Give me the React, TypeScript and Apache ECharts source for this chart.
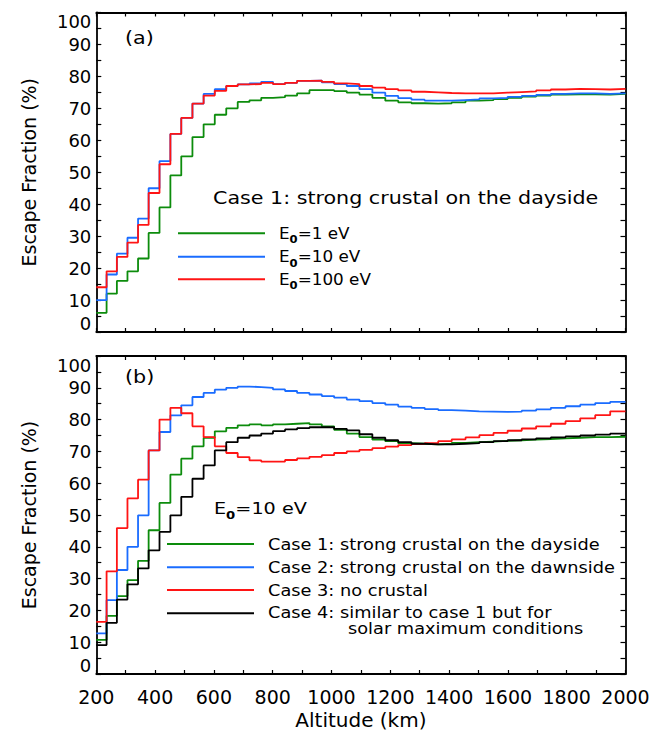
import React, { useEffect, useRef } from "react";
import * as echarts from "echarts";

// Altitude bin edges (km), read from the step positions
const altitudeEdges = [200, 235, 270, 306, 342, 378, 415, 452, 489, 527, 565, 603, 642, 681, 721, 761, 801, 842, 883, 925, 967, 1009, 1052, 1095, 1139, 1183, 1227, 1272, 1317, 1363, 1409, 1456, 1503, 1551, 1599, 1647, 1696, 1746, 1796, 1846, 1897, 1948, 2000];

// Panel (a): Case 1, different E0
const aE1 = [6, 12, 16, 19, 23, 31, 39, 49, 55, 61, 65, 68, 70, 72, 72.5, 73.3, 73.5, 74, 74.7, 75.7, 75.7, 75.4, 74.9, 74.3, 73.3, 72.4, 71.9, 71.6, 71.5, 71.6, 71.9, 72.4, 72.6, 72.9, 73.3, 73.7, 74.0, 74.3, 74.4, 74.4, 74.3, 74.5];
const aE10 = [10, 18, 24.5, 29.5, 35.5, 45, 53.5, 62, 67, 71.5, 74.5, 76, 77, 77.5, 77.8, 78.3, 77.6, 78.0, 78.6, 78.7, 78.1, 77.6, 77.0, 76.0, 74.9, 73.9, 73.2, 72.7, 72.4, 72.4, 72.6, 72.8, 73.1, 73.3, 73.6, 73.9, 74.2, 74.5, 74.7, 74.7, 74.5, 74.7];
const aE100 = [14, 19, 23.5, 28, 33.5, 43.5, 52.5, 62, 67, 71.5, 74, 75.5, 77, 77.5, 77.6, 78.0, 77.6, 78.0, 78.6, 78.7, 78.3, 77.8, 77.6, 77.0, 76.5, 76.0, 75.6, 75.2, 75.0, 74.8, 74.7, 74.7, 74.7, 74.9, 75.1, 75.3, 75.6, 75.9, 76.1, 76.0, 75.9, 76.1];

// Panel (b): E0 = 10 eV, four cases
const bCase1 = [10.7, 18.3, 24.5, 29.5, 35.6, 45.2, 53.8, 62.7, 67.7, 71.6, 74.3, 76.3, 77.4, 78.2, 78.5, 78.2, 78.5, 78.7, 78.9, 78.5, 77.9, 76.8, 75.6, 74.5, 73.7, 73.2, 72.6, 72.4, 72.2, 72.4, 72.7, 72.9, 73.1, 73.3, 73.5, 73.7, 73.9, 74.1, 74.3, 74.5, 74.5, 74.6];
const bCase2 = [12.8, 23.2, 32.7, 40.0, 49.9, 70.3, 76.1, 81.3, 84.5, 87.1, 88.4, 89.4, 90.0, 90.4, 90.2, 90.0, 89.5, 89.0, 88.4, 87.9, 87.4, 86.9, 86.3, 85.8, 85.2, 84.7, 84.1, 83.7, 83.3, 83.0, 82.8, 82.6, 82.5, 82.4, 82.5, 82.8, 83.2, 83.7, 84.2, 84.7, 85.2, 85.6];
const bCase3 = [16.4, 32.3, 45.9, 55.2, 61.1, 70.3, 80.0, 83.7, 82.0, 77.9, 74.5, 71.6, 69.5, 68.2, 67.2, 66.8, 66.8, 67.3, 67.8, 68.3, 68.8, 69.5, 70.0, 70.5, 71.0, 71.5, 72.0, 72.3, 72.6, 73.2, 73.8, 74.4, 75.1, 75.8, 76.5, 77.2, 77.9, 78.7, 79.5, 80.4, 81.4, 82.6];
const bCase4 = [9.1, 16.1, 23.4, 28.2, 33.2, 38.9, 44.7, 49.9, 55.7, 61.4, 65.6, 70.3, 72.9, 74.3, 75.0, 75.6, 76.4, 76.9, 77.3, 77.6, 77.6, 77.1, 76.6, 75.4, 74.3, 73.5, 72.9, 72.4, 72.2, 72.2, 72.4, 72.6, 72.9, 73.2, 73.5, 73.8, 74.1, 74.4, 74.7, 75.0, 75.3, 75.6];

const xTicks = [200, 400, 600, 800, 1000, 1200, 1400, 1600, 1800, 2000];

const GREEN = "#0c8c0c";
const BLUE = "#1a6cff";
const RED = "#ff1414";
const BLACK = "#000000";
const FONT = '"DejaVu Sans", sans-serif';

function stepData(values: number[]) {
  const pts: number[][] = values.map((v, i) => [altitudeEdges[i], v]);
  pts.push([altitudeEdges[altitudeEdges.length - 1], values[values.length - 1]]);
  return pts;
}

function richE(size: number) {
  return {
    n: { fontSize: size, fontFamily: FONT, lineHeight: 24, verticalAlign: "middle", fill: "#000", color: "#000" },
    s: { fontSize: 11, fontWeight: "bold", fontFamily: FONT, verticalAlign: "bottom", fill: "#000", color: "#000" },
  };
}

function txt(text: string, x: number, y: number, size: number, sx: number, rich?: any) {
  const style: any = {
    text,
    fill: "#000",
    fontSize: size,
    fontFamily: FONT,
    textAlign: "left",
    textVerticalAlign: "middle",
  };
  if (rich) style.rich = rich;
  return { type: "text", x, y, scaleX: sx, silent: true, style };
}

function seg(x1: number, x2: number, y: number, color: string) {
  return {
    type: "line",
    silent: true,
    shape: { x1, y1: y, x2, y2: y },
    style: { stroke: color, lineWidth: 2 },
  };
}

const axisLine = { show: true, onZero: false, lineStyle: { color: "#000", width: 1.8 } };

function xAx(grid: number, pos: "top" | "bottom", labels: boolean) {
  return {
    type: "value",
    gridIndex: grid,
    position: pos,
    min: 200,
    max: 2000,
    interval: 100,
    axisLine,
    axisTick: { show: true, inside: true, length: 4, lineStyle: { color: "#000", width: 1.2 } },
    axisLabel: {
      show: labels,
      fontSize: 19,
      fontFamily: FONT,
      color: "#000",
      margin: 13,
      formatter: (v: number) => (xTicks.indexOf(v) >= 0 ? String(v) : ""),
    },
    splitLine: { show: false },
    name: labels ? "Altitude (km)" : "",
    nameLocation: "middle",
    nameGap: 36,
    nameTextStyle: { fontSize: 20, fontFamily: FONT, color: "#000" },
  };
}

function yAx(grid: number, pos: "left" | "right", labels: boolean) {
  return {
    type: "value",
    gridIndex: grid,
    position: pos,
    min: 0,
    max: 100,
    interval: 10,
    axisLine,
    axisTick: { show: true, inside: true, length: 5, lineStyle: { color: "#000", width: 1.2 } },
    minorTick: { show: true, splitNumber: 2, length: 5, lineStyle: { color: "#000", width: 1.2 } },
    axisLabel: {
      show: labels,
      fontSize: 18,
      fontFamily: FONT,
      color: "#000",
      margin: 5,
      verticalAlignMinLabel: "bottom",
      verticalAlignMaxLabel: "top",
    },
    splitLine: { show: false },
    name: labels ? "Escape Fraction (%)" : "",
    nameLocation: "middle",
    nameGap: 58,
    nameTextStyle: { fontSize: 19, fontFamily: FONT, color: "#000" },
  };
}

function line(name: string, values: number[], color: string, xi: number, yi: number) {
  return {
    type: "line",
    name,
    xAxisIndex: xi,
    yAxisIndex: yi,
    step: "end",
    showSymbol: false,
    symbol: "none",
    silent: true,
    lineStyle: { color, width: 1.8 },
    itemStyle: { color },
    data: stepData(values),
  };
}

export default function App() {
  const ref = useRef<HTMLDivElement>(null);
  useEffect(() => {
    if (!ref.current) return;
    const chart = echarts.init(ref.current, undefined, { renderer: "svg" });
    const option: any = {
      animation: false,
      backgroundColor: "#ffffff",
      grid: [
        { left: 96.3, right: 36.5, top: 12.5, height: 319.5 },
        { left: 96.3, right: 36.5, top: 356, height: 318 },
      ],
      xAxis: [xAx(0, "bottom", false), xAx(0, "top", false), xAx(1, "bottom", true), xAx(1, "top", false)],
      yAxis: [yAx(0, "left", true), yAx(0, "right", false), yAx(1, "left", true), yAx(1, "right", false)],
      series: [
        line("E0=1 eV", aE1, GREEN, 0, 0),
        line("E0=10 eV", aE10, BLUE, 0, 0),
        line("E0=100 eV", aE100, RED, 0, 0),
        line("Case 1: strong crustal on the dayside", bCase1, GREEN, 2, 2),
        line("Case 2: strong crustal on the dawnside", bCase2, BLUE, 2, 2),
        line("Case 3: no crustal", bCase3, RED, 2, 2),
        line("Case 4: similar to case 1 but for solar maximum conditions", bCase4, BLACK, 2, 2),
      ],
      graphic: [
        txt("(a)", 125, 38, 18, 1.15),
        txt("(b)", 125, 377, 18, 1.15),
        txt("Case 1: strong crustal on the dayside", 213, 198, 17, 1.214),
        seg(178, 265, 233.3, GREEN),
        seg(178, 265, 256.7, BLUE),
        seg(178, 265, 279.3, RED),
        txt("{n|E}{s|0}{n|=1 eV}", 279, 233.3, 16, 1.05, richE(16)),
        txt("{n|E}{s|0}{n|=10 eV}", 279, 256.7, 16, 1.05, richE(16)),
        txt("{n|E}{s|0}{n|=100 eV}", 279, 279.3, 16, 1.05, richE(16)),
        txt("{n|E}{s|0}{n|=10 eV}", 214, 509, 16, 1.2, richE(16)),
        seg(167, 254, 544, GREEN),
        seg(167, 254, 567.3, BLUE),
        seg(167, 254, 590, RED),
        seg(167, 254, 613.3, BLACK),
        txt("Case 1: strong crustal on the dayside", 268, 544, 16, 1.11),
        txt("Case 2: strong crustal on the dawnside", 268, 567.3, 16, 1.11),
        txt("Case 3: no crustal", 268, 590, 16, 1.11),
        txt("Case 4: similar to case 1 but for", 268, 612, 16, 1.11),
        txt("solar maximum conditions", 348, 628, 16, 1.11),
      ],
    };
    chart.setOption(option);
    return () => chart.dispose();
  }, []);
  return (
    <div
      ref={ref}
      style={{ position: "absolute", left: 0, top: 0, width: 662, height: 732, background: "#fff" }}
    />
  );
}
